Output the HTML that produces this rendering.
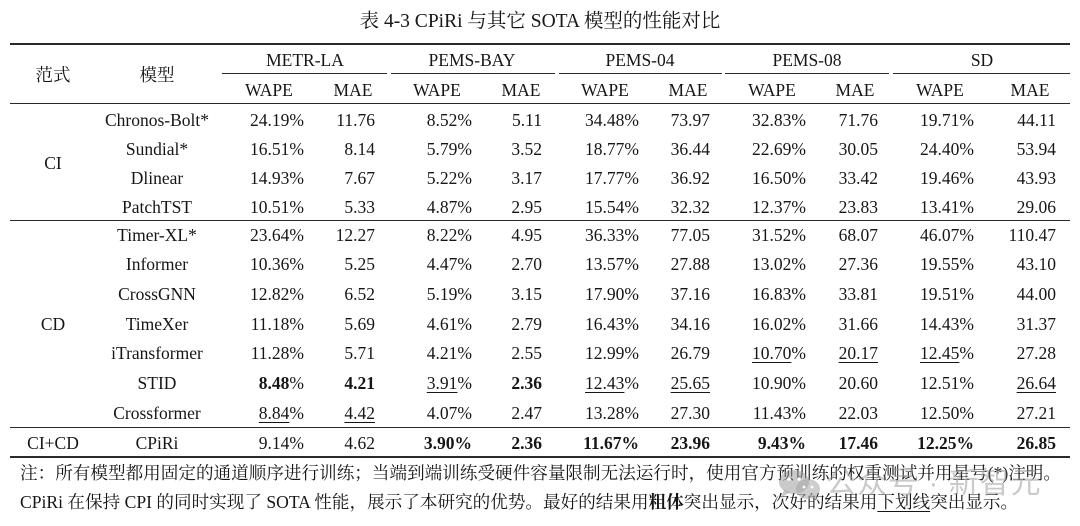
<!DOCTYPE html>
<html><head><meta charset="utf-8">
<style>
html,body{margin:0;padding:0;background:#fff;}
body{width:1080px;height:526px;position:relative;overflow:hidden;font-family:"Liberation Serif","Noto Serif CJK SC",serif;color:#161616;}
.t{position:absolute;left:0;width:1080px;top:9px;text-align:center;font-size:19.5px;line-height:26px;white-space:nowrap;}
.rule{position:absolute;background:#2a2a2a;}
.row{position:absolute;left:0;width:1080px;height:20px;}
.row>div{position:absolute;top:0;line-height:20px;height:20px;white-space:nowrap;font-size:17.5px;}
.mn{left:57px;width:200px;text-align:center;}
.w1{right:776px}.m1{right:705px}.w2{right:608px}.m2{right:538px}.w3{right:441px}.m3{right:370px}.w4{right:274px}.m4{right:202px}.w5{right:106px}.m5{right:24px}
.hc{position:absolute;width:200px;text-align:center;line-height:20px;font-size:17.5px;white-space:nowrap;}
b{font-weight:bold;}
u{text-decoration:underline;text-decoration-thickness:1px;text-underline-offset:3px;}
.fn{position:absolute;left:20px;font-size:17.6px;line-height:24px;white-space:nowrap;}
.fn1{width:1041px;text-align:justify;text-align-last:justify;white-space:normal;height:24px;overflow:hidden;}
.wm{position:absolute;left:826px;top:466px;font-family:"Liberation Sans","Noto Sans CJK SC",sans-serif;font-size:30px;line-height:36px;color:rgba(150,150,150,0.5);white-space:nowrap;letter-spacing:1px;}
</style></head><body>
<div class="t">表 4-3 CPiRi 与其它 SOTA 模型的性能对比</div>

<div class="rule" style="left:10px;width:1060px;top:43px;height:2px"></div>
<div class="rule" style="left:222px;width:165px;top:73px;height:1px"></div>
<div class="rule" style="left:391px;width:164px;top:73px;height:1px"></div>
<div class="rule" style="left:559px;width:163px;top:73px;height:1px"></div>
<div class="rule" style="left:725px;width:164px;top:73px;height:1px"></div>
<div class="rule" style="left:893px;width:177px;top:73px;height:1px"></div>
<div class="rule" style="left:10px;width:1060px;top:103px;height:1.3px"></div>
<div class="rule" style="left:10px;width:1060px;top:220px;height:1.3px"></div>
<div class="rule" style="left:10px;width:1060px;top:427px;height:1.3px"></div>
<div class="rule" style="left:10px;width:1060px;top:456px;height:2px"></div>

<div class="hc" style="left:-47px;top:65px">范式</div>
<div class="hc" style="left:57px;top:65px">模型</div>
<div class="hc" style="left:205px;top:50px">METR-LA</div>
<div class="hc" style="left:372px;top:50px">PEMS-BAY</div>
<div class="hc" style="left:540px;top:50px">PEMS-04</div>
<div class="hc" style="left:707px;top:50px">PEMS-08</div>
<div class="hc" style="left:882px;top:50px">SD</div>
<div class="hc" style="left:169px;top:80px">WAPE</div>
<div class="hc" style="left:253px;top:80px">MAE</div>
<div class="hc" style="left:337px;top:80px">WAPE</div>
<div class="hc" style="left:421px;top:80px">MAE</div>
<div class="hc" style="left:505px;top:80px">WAPE</div>
<div class="hc" style="left:588px;top:80px">MAE</div>
<div class="hc" style="left:672px;top:80px">WAPE</div>
<div class="hc" style="left:755px;top:80px">MAE</div>
<div class="hc" style="left:840px;top:80px">WAPE</div>
<div class="hc" style="left:930px;top:80px">MAE</div>

<div class="hc" style="left:-47px;top:153px">CI</div>
<div class="hc" style="left:-47px;top:314px">CD</div>
<div class="hc" style="left:-47px;top:433px">CI+CD</div>

<div class="row" style="top:110px"><div class="mn">Chronos-Bolt*</div><div class="w1">24.19%</div><div class="m1">11.76</div><div class="w2">8.52%</div><div class="m2">5.11</div><div class="w3">34.48%</div><div class="m3">73.97</div><div class="w4">32.83%</div><div class="m4">71.76</div><div class="w5">19.71%</div><div class="m5">44.11</div></div>
<div class="row" style="top:139px"><div class="mn">Sundial*</div><div class="w1">16.51%</div><div class="m1">8.14</div><div class="w2">5.79%</div><div class="m2">3.52</div><div class="w3">18.77%</div><div class="m3">36.44</div><div class="w4">22.69%</div><div class="m4">30.05</div><div class="w5">24.40%</div><div class="m5">53.94</div></div>
<div class="row" style="top:168px"><div class="mn">Dlinear</div><div class="w1">14.93%</div><div class="m1">7.67</div><div class="w2">5.22%</div><div class="m2">3.17</div><div class="w3">17.77%</div><div class="m3">36.92</div><div class="w4">16.50%</div><div class="m4">33.42</div><div class="w5">19.46%</div><div class="m5">43.93</div></div>
<div class="row" style="top:197px"><div class="mn">PatchTST</div><div class="w1">10.51%</div><div class="m1">5.33</div><div class="w2">4.87%</div><div class="m2">2.95</div><div class="w3">15.54%</div><div class="m3">32.32</div><div class="w4">12.37%</div><div class="m4">23.83</div><div class="w5">13.41%</div><div class="m5">29.06</div></div>
<div class="row" style="top:225px"><div class="mn">Timer-XL*</div><div class="w1">23.64%</div><div class="m1">12.27</div><div class="w2">8.22%</div><div class="m2">4.95</div><div class="w3">36.33%</div><div class="m3">77.05</div><div class="w4">31.52%</div><div class="m4">68.07</div><div class="w5">46.07%</div><div class="m5">110.47</div></div>
<div class="row" style="top:254px"><div class="mn">Informer</div><div class="w1">10.36%</div><div class="m1">5.25</div><div class="w2">4.47%</div><div class="m2">2.70</div><div class="w3">13.57%</div><div class="m3">27.88</div><div class="w4">13.02%</div><div class="m4">27.36</div><div class="w5">19.55%</div><div class="m5">43.10</div></div>
<div class="row" style="top:284px"><div class="mn">CrossGNN</div><div class="w1">12.82%</div><div class="m1">6.52</div><div class="w2">5.19%</div><div class="m2">3.15</div><div class="w3">17.90%</div><div class="m3">37.16</div><div class="w4">16.83%</div><div class="m4">33.81</div><div class="w5">19.51%</div><div class="m5">44.00</div></div>
<div class="row" style="top:314px"><div class="mn">TimeXer</div><div class="w1">11.18%</div><div class="m1">5.69</div><div class="w2">4.61%</div><div class="m2">2.79</div><div class="w3">16.43%</div><div class="m3">34.16</div><div class="w4">16.02%</div><div class="m4">31.66</div><div class="w5">14.43%</div><div class="m5">31.37</div></div>
<div class="row" style="top:343px"><div class="mn">iTransformer</div><div class="w1">11.28%</div><div class="m1">5.71</div><div class="w2">4.21%</div><div class="m2">2.55</div><div class="w3">12.99%</div><div class="m3">26.79</div><div class="w4"><u>10.70</u>%</div><div class="m4"><u>20.17</u></div><div class="w5"><u>12.45</u>%</div><div class="m5">27.28</div></div>
<div class="row" style="top:373px"><div class="mn">STID</div><div class="w1"><b>8.48</b>%</div><div class="m1"><b>4.21</b></div><div class="w2"><u>3.91</u>%</div><div class="m2"><b>2.36</b></div><div class="w3"><u>12.43</u>%</div><div class="m3"><u>25.65</u></div><div class="w4">10.90%</div><div class="m4">20.60</div><div class="w5">12.51%</div><div class="m5"><u>26.64</u></div></div>
<div class="row" style="top:403px"><div class="mn">Crossformer</div><div class="w1"><u>8.84</u>%</div><div class="m1"><u>4.42</u></div><div class="w2">4.07%</div><div class="m2">2.47</div><div class="w3">13.28%</div><div class="m3">27.30</div><div class="w4">11.43%</div><div class="m4">22.03</div><div class="w5">12.50%</div><div class="m5">27.21</div></div>
<div class="row" style="top:433px"><div class="mn">CPiRi</div><div class="w1">9.14%</div><div class="m1">4.62</div><div class="w2"><b>3.90%</b></div><div class="m2"><b>2.36</b></div><div class="w3"><b>11.67%</b></div><div class="m3"><b>23.96</b></div><div class="w4"><b>9.43%</b></div><div class="m4"><b>17.46</b></div><div class="w5"><b>12.25%</b></div><div class="m5"><b>26.85</b></div></div>

<div class="fn fn1" style="top:461px">注：所有模型都用固定的通道顺序进行训练；当端到端训练受硬件容量限制无法运行时，使用官方预训练的权重测试并用星号(*)注明。</div>
<div class="fn" style="top:490px">CPiRi 在保持 CPI 的同时实现了 SOTA 性能，展示了本研究的优势。最好的结果用<b>粗体</b>突出显示，次好的结果用<u>下划线</u>突出显示。</div>

<svg style="position:absolute;left:776px;top:468px" width="48" height="34" viewBox="0 0 48 34">
<g fill="rgba(150,150,150,0.5)">
<ellipse cx="18" cy="14" rx="15" ry="12"/>
<path d="M8 22 L5 30 L14 24 Z"/>
<ellipse cx="32" cy="21" rx="12" ry="10" fill="rgba(165,165,165,0.55)"/>
<path d="M40 28 L43 33 L36 29 Z" fill="rgba(165,165,165,0.55)"/>
</g>
<g fill="#fff"><circle cx="13" cy="11" r="1.8"/><circle cx="23" cy="11" r="1.8"/><circle cx="28" cy="19" r="1.4"/><circle cx="36" cy="19" r="1.4"/></g>
</svg>
<div class="wm">公众号 · 新智元</div>
</body></html>
